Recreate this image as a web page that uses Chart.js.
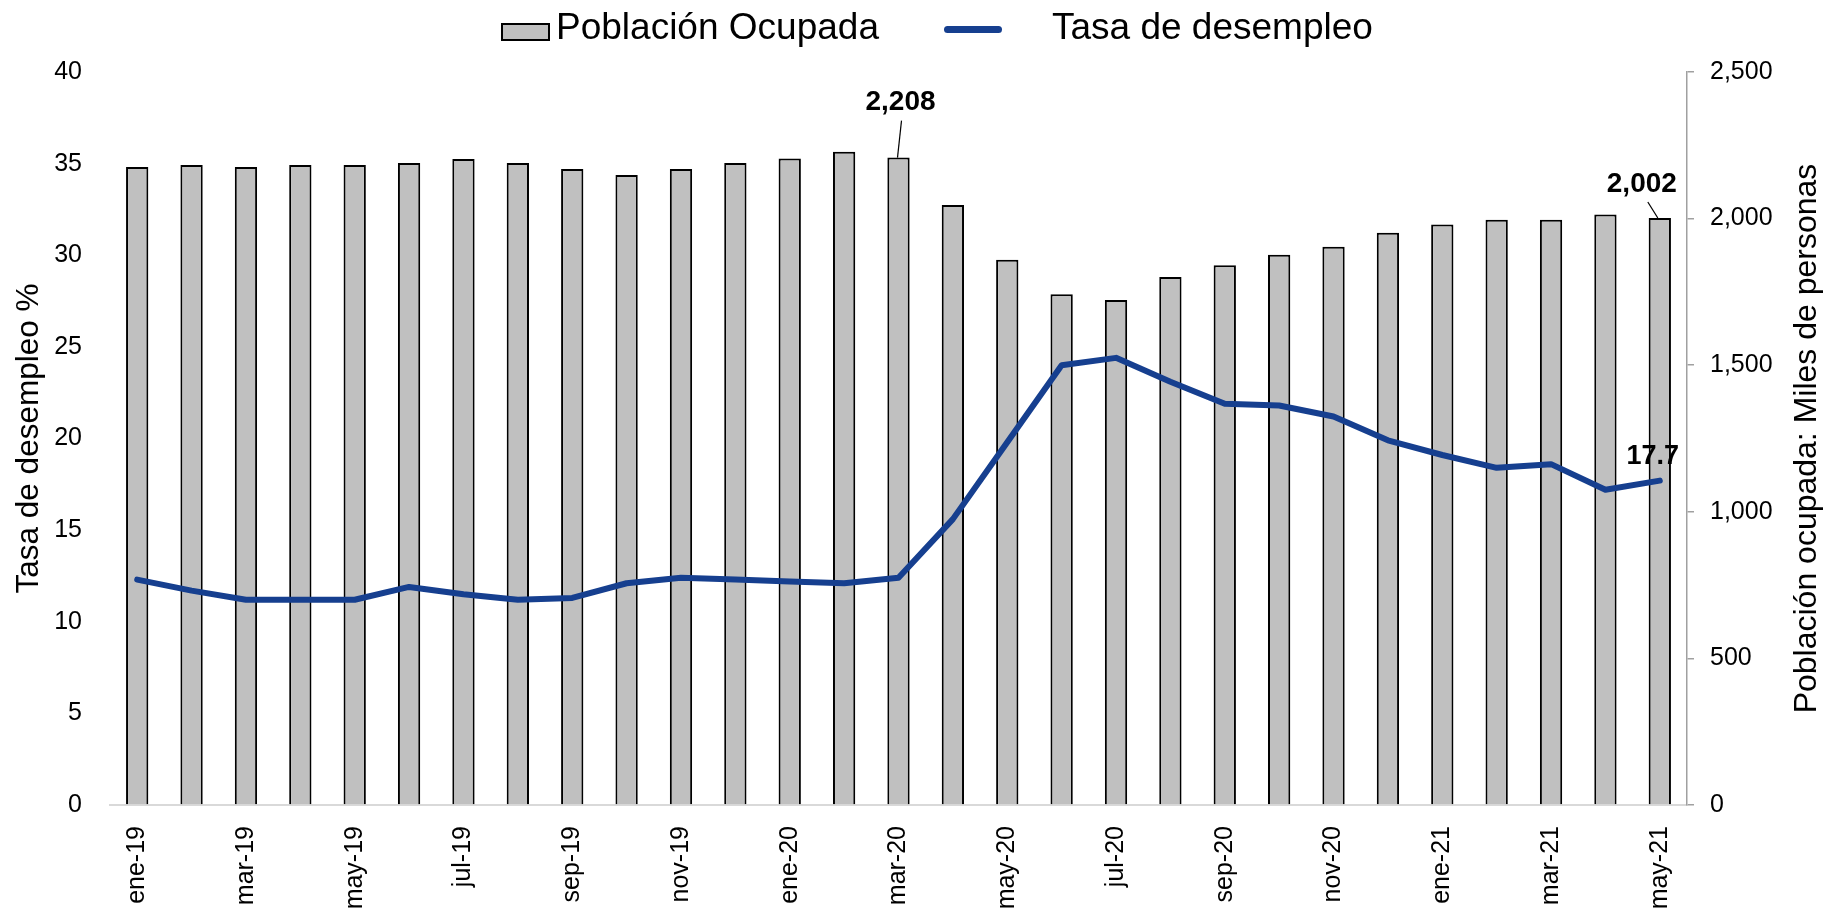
<!DOCTYPE html>
<html lang="es">
<head>
<meta charset="utf-8">
<title>Población ocupada y tasa de desempleo</title>
<script src="https://cdn.jsdelivr.net/npm/chart.js@4.4.1/dist/chart.umd.min.js"></script>
<style>
    html, body { margin: 0; padding: 0; background: #fff; }
    #wrap { position: relative; width: 1824px; height: 914px; }
    #legend { position: absolute; left: 0; top: 0; width: 1824px; height: 60px;
        font-family: 'Liberation Sans', Arial, sans-serif; font-size: 37px; color: #000; }
    .lg-text { position: absolute; top: 8px; line-height: 37px; white-space: nowrap; }
    .lg-box { position: absolute; box-sizing: border-box; left: 501px; top: 23px; width: 49px; height: 18px;
        background: #c0c0c0; border: 2px solid #000; }
    .lg-line { position: absolute; left: 944px; top: 26px; width: 58px; height: 7px; border-radius: 4px; }
</style>
</head>
<body>
<div id="wrap">
    <canvas id="grafico"></canvas>
    <div id="legend"></div>
</div>
<script>
// meses (categorías del eje x)
const meses = ['ene-19', 'feb-19', 'mar-19', 'abr-19', 'may-19', 'jun-19', 'jul-19', 'ago-19', 'sep-19', 'oct-19', 'nov-19', 'dic-19',
    'ene-20', 'feb-20', 'mar-20', 'abr-20', 'may-20', 'jun-20', 'jul-20', 'ago-20', 'sep-20', 'oct-20', 'nov-20', 'dic-20',
    'ene-21', 'feb-21', 'mar-21', 'abr-21', 'may-21'];

// Población ocupada (miles de personas)
const poblacionOcupada = [2176, 2183, 2176, 2183, 2183, 2190, 2203, 2190, 2169, 2149, 2169, 2190,
    2205, 2228, 2208, 2046, 1860, 1742, 1722, 1801, 1841, 1877, 1904, 1952,
    1980, 1996, 1996, 2014, 2002];

// Tasa de desempleo (%)
const tasaDesempleo = [12.3, 11.7, 11.2, 11.2, 11.2, 11.9, 11.5, 11.2, 11.3, 12.1, 12.4, 12.3,
    12.2, 12.1, 12.4, 15.6, 19.8, 24.0, 24.4, 23.1, 21.9, 21.8, 21.2, 19.9,
    19.1, 18.4, 18.6, 17.2, 17.7];

// marcas de los ejes
const ticksTasa = [0, 5, 10, 15, 20, 25, 30, 35, 40];
const ticksPoblacion = [0, 500, 1000, 1500, 2000, 2500];

// puntos con etiqueta
const barrasEtiquetadas = [14, 28];
const puntosEtiquetados = [28];

const FUENTE = "'Liberation Sans', Arial, sans-serif";
const GRIS_BARRA = '#c0c0c0';
const AZUL = '#163f8f';

// etiquetas de datos con línea guía
const etiquetasDatos = {
    id: 'etiquetasDatos',
    afterDatasetsDraw(chart) {
        const ctx = chart.ctx;
        const barras = chart.getDatasetMeta(0).data;
        const linea = chart.getDatasetMeta(1).data;
        ctx.save();
        ctx.font = 'bold 28px ' + FUENTE;
        ctx.fillStyle = '#000';
        ctx.strokeStyle = '#000';
        ctx.lineWidth = 1.2;
        ctx.textAlign = 'center';
        ctx.textBaseline = 'alphabetic';

        barrasEtiquetadas.forEach((i, n) => {
            const b = barras[i];
            const txt = poblacionOcupada[i].toLocaleString('en-US');
            if (n === 0) {
                ctx.fillText(txt, b.x + 2, b.y - 48);
                ctx.beginPath();
                ctx.moveTo(b.x + 3, b.y - 37);
                ctx.lineTo(b.x - 1, b.y);
                ctx.stroke();
            } else {
                ctx.fillText(txt, b.x - 18, b.y - 26);
                ctx.beginPath();
                ctx.moveTo(b.x - 12, b.y - 16);
                ctx.lineTo(b.x - 2, b.y);
                ctx.stroke();
            }
        });

        ctx.font = 'bold 27px ' + FUENTE;
        puntosEtiquetados.forEach(i => {
            const p = linea[i];
            ctx.fillText(tasaDesempleo[i].toFixed(1), p.x - 7, p.y - 17);
        });
        ctx.restore();
    }
};

// título del eje derecho (se lee de abajo hacia arriba)
const tituloDerecho = {
    id: 'tituloDerecho',
    afterDraw(chart) {
        const ctx = chart.ctx;
        const area = chart.chartArea;
        ctx.save();
        ctx.translate(1807, (area.top + area.bottom) / 2);
        ctx.rotate(-Math.PI / 2);
        ctx.font = '32px ' + FUENTE;
        ctx.fillStyle = '#000';
        ctx.textAlign = 'center';
        ctx.textBaseline = 'middle';
        ctx.fillText('Población ocupada: Miles de personas', 0, 0);
        ctx.restore();
    }
};

const ctx = document.getElementById('grafico').getContext('2d');
const grafico = new Chart(ctx, {
    data: {
        labels: meses,
        datasets: [{
            type: 'bar',
            label: 'Población Ocupada',
            data: poblacionOcupada,
            yAxisID: 'yP',
            backgroundColor: GRIS_BARRA,
            borderColor: '#000',
            borderWidth: 2,
            barPercentage: 0.41,
            categoryPercentage: 1,
            order: 1
        }, {
            type: 'line',
            label: 'Tasa de desempleo',
            data: tasaDesempleo,
            yAxisID: 'yT',
            borderColor: AZUL,
            backgroundColor: AZUL,
            borderWidth: 6,
            borderCapStyle: 'round',
            borderJoinStyle: 'round',
            pointRadius: 0,
            tension: 0,
            order: 0
        }]
    },
    options: {
        responsive: true,
        maintainAspectRatio: false,
        animation: false,
        layout: { padding: { top: 72, left: 0, right: 0, bottom: 0 } },
        plugins: {
            legend: { display: false },
            tooltip: { enabled: false }
        },
        scales: {
            x: {
                grid: { display: false, drawTicks: false },
                border: { display: true, color: '#d9d9d9', width: 2 },
                ticks: {
                    autoSkip: false,
                    minRotation: 90,
                    maxRotation: 90,
                    padding: 21,
                    color: '#000',
                    font: { family: FUENTE, size: 25 },
                    callback: (val, i) => (i % 2 === 0 ? meses[i] : '')
                },
                afterFit: (s) => { s.height = 109; }
            },
            yT: {
                position: 'left',
                min: 0,
                max: 40,
                grid: { display: false, drawTicks: false },
                border: { display: false },
                afterBuildTicks: (s) => { s.ticks = ticksTasa.map(v => ({ value: v })); },
                ticks: {
                    padding: 28,
                    color: '#000',
                    font: { family: FUENTE, size: 25 }
                },
                title: {
                    display: true,
                    text: 'Tasa de desempleo %',
                    color: '#000',
                    font: { family: FUENTE, size: 31.5 },
                    padding: { top: 10, bottom: 0 }
                },
                afterFit: (s) => { s.width = 110; }
            },
            yP: {
                position: 'right',
                min: 0,
                max: 2500,
                grid: { display: true, drawOnChartArea: false, drawTicks: true, tickLength: 7, color: '#a0a0a0', lineWidth: 1.5 },
                border: { display: true, color: '#a0a0a0', width: 1.5 },
                afterBuildTicks: (s) => { s.ticks = ticksPoblacion.map(v => ({ value: v })); },
                ticks: {
                    padding: 16,
                    color: '#000',
                    font: { family: FUENTE, size: 25 },
                    callback: (v) => v.toLocaleString('en-US')
                },
                afterFit: (s) => { s.width = 137; }
            }
        }
    },
    plugins: [etiquetasDatos, tituloDerecho]
});

// leyenda en HTML a partir de los datasets
const leyenda = document.getElementById('legend');
const ds = grafico.data.datasets;
leyenda.innerHTML =
    '<span class="lg-box"></span>' +
    '<span class="lg-text" style="left:556px">' + ds[0].label + '</span>' +
    '<span class="lg-line" style="background:' + ds[1].borderColor + '"></span>' +
    '<span class="lg-text" style="left:1052px">' + ds[1].label + '</span>';
</script>
</body>
</html>
